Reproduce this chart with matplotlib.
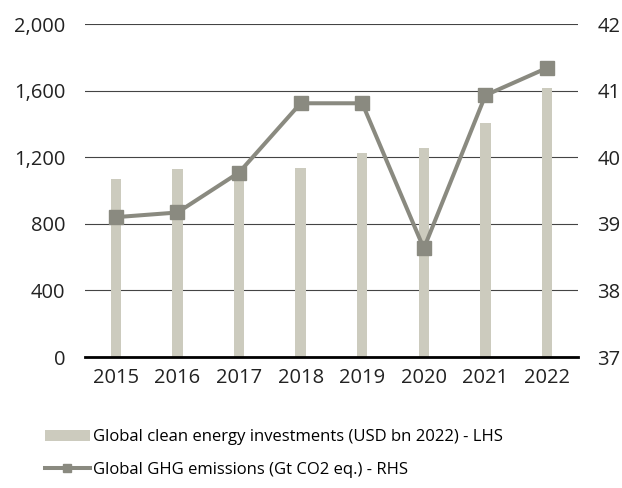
import matplotlib
matplotlib.use("Agg")
import matplotlib.pyplot as plt
from matplotlib.lines import Line2D
from matplotlib.patches import Patch

# --- Data ---
years = ["2015", "2016", "2017", "2018", "2019", "2020", "2021", "2022"]
investments = [1071, 1129, 1110, 1135, 1223, 1257, 1405, 1614]
emissions = [39.10, 39.17, 39.77, 40.81, 40.81, 38.63, 40.93, 41.34]
left_ticks = [0, 400, 800, 1200, 1600, 2000]
right_ticks = [37, 38, 39, 40, 41, 42]

bar_color = "#cccbbe"
line_color = "#8a8a80"

plt.rcParams['font.family'] = ['Open Sans', 'DejaVu Sans']

fig = plt.figure(figsize=(6.22, 4.88), dpi=100)
ax = fig.add_axes([0.1367, 0.2684, 0.7923, 0.6824])
x = list(range(len(years)))

ax.bar(x, investments, width=0.17, color=bar_color, zorder=2)
ax.set_ylim(0, 2000)
ax.set_xlim(-0.5, len(years) - 0.5)
ax.set_yticks(left_ticks)
ax.set_yticklabels([f"{v:,}" for v in left_ticks])
ax.set_xticks(x)
ax.set_xticklabels(years)
ax.yaxis.grid(True, color="#444444", linewidth=0.8, zorder=0)
ax.set_axisbelow(True)
for s in ["top", "left", "right"]:
    ax.spines[s].set_visible(False)
ax.spines["bottom"].set_linewidth(2)
ax.spines["bottom"].set_color("black")
ax.spines["bottom"].set_zorder(3)
ax.tick_params(axis="both", length=0, labelsize=14.5, colors="#222222")
ax.tick_params(axis="y", pad=14)
ax.tick_params(axis="x", pad=8)

ax2 = ax.twinx()
ax2.plot(x, emissions, color=line_color, linewidth=2.9, marker="s",
         markersize=9.5, zorder=4)
ax2.set_ylim(37, 42)
ax2.set_yticks(right_ticks)
for s in ["top", "left", "right", "bottom"]:
    ax2.spines[s].set_visible(False)
ax2.tick_params(axis="y", length=0, labelsize=14.5, colors="#222222", pad=14)

handles = [
    Patch(facecolor=bar_color, edgecolor="none"),
    Line2D([0], [0], color=line_color, linewidth=2.9, marker="s", markersize=6),
]
labels = [
    "Global clean energy investments (USD bn 2022) - LHS",
    "Global GHG emissions (Gt CO2 eq.) - RHS",
]
fig.legend(handles, labels, loc="upper left", bbox_to_anchor=(0.072, 0.12),
           frameon=False, fontsize=12, handlelength=2.7, handletextpad=0.2,
           labelspacing=1.0, borderaxespad=0, borderpad=0)

fig.savefig("out.png", dpi=100)
